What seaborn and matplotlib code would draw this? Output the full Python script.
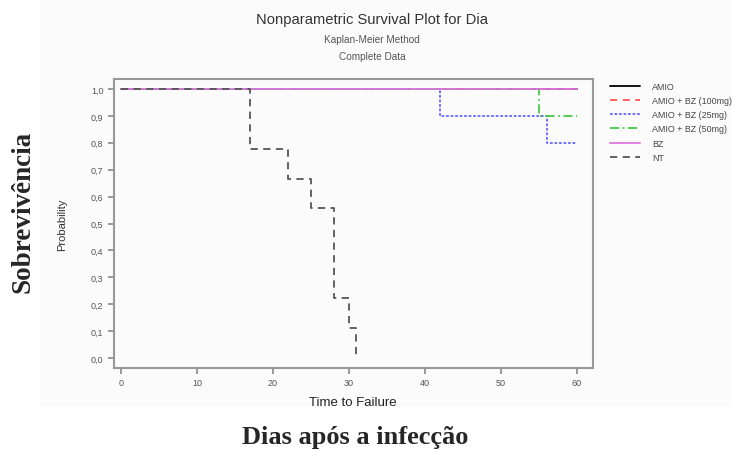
import pandas as pd
import matplotlib
matplotlib.use('Agg')
import matplotlib.pyplot as plt
from matplotlib.patches import Rectangle
import seaborn as sns

# Kaplan-Meier step data
groups = ['AMIO', 'AMIO + BZ (100mg)', 'AMIO + BZ (25mg)', 'AMIO + BZ (50mg)', 'BZ', 'NT']
amio_t = [0, 60]
amio_s = [1.0, 1.0]
bz100_t = [0, 60]
bz100_s = [1.0, 1.0]
bz25_t = [0, 42, 56, 60]
bz25_s = [1.0, 0.9, 0.8, 0.8]
bz50_t = [0, 55, 60]
bz50_s = [1.0, 0.9, 0.9]
bz_t = [0, 60]
bz_s = [1.0, 1.0]
nt_t = [0, 17, 22, 25, 28, 30, 31]
nt_s = [1.0, 0.778, 0.667, 0.556, 0.222, 0.111, 0.0]

x_ticks = [0, 10, 20, 30, 40, 50, 60]
y_ticks = [0.0, 0.1, 0.2, 0.3, 0.4, 0.5, 0.6, 0.7, 0.8, 0.9, 1.0]

series = {
    'AMIO': (amio_t, amio_s),
    'AMIO + BZ (100mg)': (bz100_t, bz100_s),
    'AMIO + BZ (25mg)': (bz25_t, bz25_s),
    'AMIO + BZ (50mg)': (bz50_t, bz50_s),
    'BZ': (bz_t, bz_s),
    'NT': (nt_t, nt_s),
}
styles = {
    'AMIO': dict(color='black', linestyle='-'),
    'AMIO + BZ (100mg)': dict(color='#ff5555', linestyle=(0, (4, 3))),
    'AMIO + BZ (25mg)': dict(color='#6666ff', linestyle=(0, (1.5, 1))),
    'AMIO + BZ (50mg)': dict(color='#44cc44', linestyle=(0, (5, 2, 1, 2))),
    'BZ': dict(color='#dd77dd', linestyle='-'),
    'NT': dict(color='#555555', linestyle=(0, (4, 3))),
}

sns.set_style('white')
plt.rcParams['font.family'] = ['Liberation Sans', 'DejaVu Sans']

fig = plt.figure(figsize=(7.32, 4.52), dpi=100)
# faint grey panel of the original SAS graph
fig.patches.append(Rectangle((40 / 732, 44 / 452), 1, 1, transform=fig.transFigure,
                             facecolor='#fbfbfb', edgecolor='none', zorder=-10))
ax = fig.add_axes([0.1557, 0.1836, 0.6543, 0.6394])
ax.set_zorder(2)
ax.set_facecolor('#fbfbfb')

for g in groups:
    t, s = series[g]
    df = pd.DataFrame({'Time': t, 'Prob': s})
    sns.lineplot(data=df, x='Time', y='Prob', ax=ax, drawstyle='steps-post',
                 linewidth=1.3, label=g, **styles[g])

ax.set_xlim(-0.9, 62.1)
ax.set_ylim(-0.037, 1.037)
ax.set_xticks(x_ticks)
ax.set_yticks(y_ticks)
ax.set_yticklabels([f'{v:.1f}'.replace('.', ',') for v in y_ticks])
ax.tick_params(axis='both', which='both', length=4, width=1.2, color='#888888',
               labelsize=6.5, labelcolor='#555555', direction='out',
               bottom=True, left=True)
for sp in ax.spines.values():
    sp.set_color('#999999')
    sp.set_linewidth(1.5)

ax.set_xlabel('Time to Failure', fontsize=9.5, color='#222222')
ax.set_ylabel('Probability', fontsize=8, color='#333333')
ax.xaxis.set_label_coords(0.499, -0.097)
ax.yaxis.set_label_coords(-0.108, 0.5)
ax.yaxis.label.set_va('center')

leg = ax.legend(loc='upper left', bbox_to_anchor=(610 / 732, 1 - 83 / 452),
                bbox_transform=fig.transFigure, frameon=False,
                fontsize=6.4, labelcolor='#444444', handlelength=3.4,
                labelspacing=0.58, handletextpad=1.35, borderpad=0,
                borderaxespad=0)

fig.text(0.508, 0.956, 'Nonparametric Survival Plot for Dia', ha='center',
         va='center', fontsize=10.6, color='#333333')
fig.text(0.508, 0.912, 'Kaplan-Meier Method', ha='center', va='center',
         fontsize=7.2, color='#555555')
fig.text(0.508, 0.874, 'Complete Data', ha='center', va='center',
         fontsize=7.2, color='#555555')

fig.text(0.031, 0.531, 'Sobrevivência', rotation=90, ha='center', va='center',
         fontsize=19.5, fontweight='bold', family=['Liberation Serif', 'DejaVu Serif'])
fig.text(0.485, 0.033, 'Dias após a infecção', ha='center', va='center',
         fontsize=19, fontweight='bold', family=['Liberation Serif', 'DejaVu Serif'])

fig.savefig('out.png', dpi=100, facecolor='white')
